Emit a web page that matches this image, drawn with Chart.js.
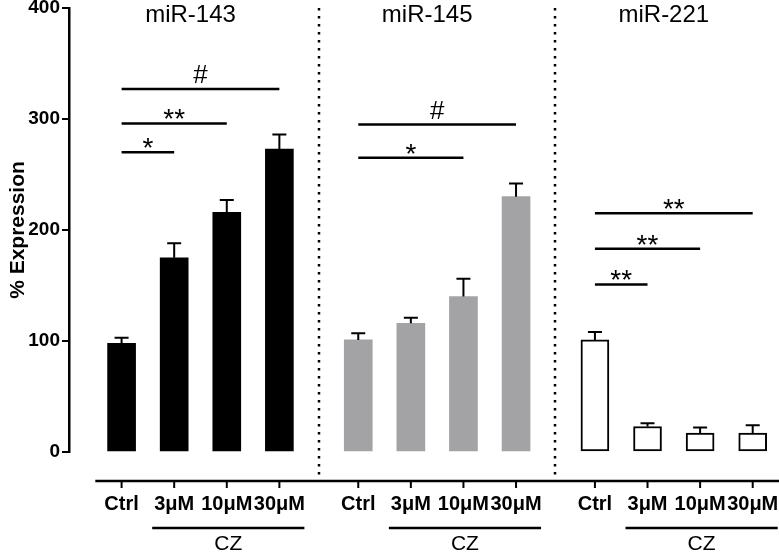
<!DOCTYPE html>
<html>
<head>
<meta charset="utf-8">
<script src="https://cdn.jsdelivr.net/npm/chart.js@4"></script>
<style>
html, body { margin: 0; padding: 0; background: #fff; }
#wrap { width: 779px; height: 552px; }
</style>
</head>
<body>
<div id="wrap"><canvas id="exprChart"></canvas></div>
<script>
// values
const groupNames = ['miR-143', 'miR-145', 'miR-221'];
const doseLabels = ['Ctrl', '3μM', '10μM', '30μM'];
const mir143 = [98, 175, 216, 273];
const mir143Err = [5, 13, 11, 13];
const mir145 = [101, 116, 140, 230];
const mir145Err = [6, 5, 16, 12];
const mir221 = [101, 23, 17, 17];
const mir221Err = [7, 3, 5, 7];
const yTicks = [0, 100, 200, 300, 400];
// significance bars: [from bar, to bar, height in %, mark]
const sig143 = [[0, 1, 270, '*'], [0, 2, 296, '**'], [0, 3, 327, '#']];
const sig145 = [[0, 2, 265, '*'], [0, 3, 295, '#']];
const sig221 = [[0, 1, 151, '**'], [0, 2, 183, '**'], [0, 3, 215, '**']];

const seriesValues = [mir143, mir145, mir221];
const seriesErr = [mir143Err, mir145Err, mir221Err];
const seriesSig = [sig143, sig145, sig221];
const fills = ['#000000', '#a3a3a5', '#ffffff'];
const FONT = '"Liberation Sans", Arial, sans-serif';

// bar position on the x scale: groups are 4.5 units apart
const xPos = (g, i) => g * 4.5 + i;
const tickPositions = [];
seriesValues.forEach((vals, g) => vals.forEach((v, i) => tickPositions.push(xPos(g, i))));

const datasets = seriesValues.map((vals, g) => ({
    label: groupNames[g],
    data: vals.map((v, i) => ({ x: xPos(g, i), y: v })),
    backgroundColor: fills[g],
    borderColor: '#000',
    borderWidth: g === 2 ? 2 : 0,
    borderSkipped: false,
    barThickness: 28,
    grouped: false
}));

const extras = {
    id: 'extras',
    afterDatasetsDraw(chart) {
        const ctx = chart.ctx, ys = chart.scales.y;
        ctx.save();
        ctx.strokeStyle = '#000';
        ctx.lineWidth = 2;
        // error bars (upper only)
        chart.data.datasets.forEach((ds, g) => {
            chart.getDatasetMeta(g).data.forEach((bar, i) => {
                const top = ys.getPixelForValue(seriesValues[g][i] + seriesErr[g][i]);
                ctx.beginPath();
                ctx.moveTo(bar.x, bar.y);
                ctx.lineTo(bar.x, top);
                ctx.moveTo(bar.x - 7, top);
                ctx.lineTo(bar.x + 7, top);
                ctx.stroke();
            });
        });
        ctx.restore();
    },
    afterDraw(chart) {
        const ctx = chart.ctx, xs = chart.scales.x, ys = chart.scales.y, area = chart.chartArea;
        const axisY = area.bottom + 29;
        ctx.save();
        ctx.strokeStyle = '#000';
        ctx.fillStyle = '#000';

        // offset x axis line with ticks
        ctx.lineWidth = 2.5;
        ctx.beginPath();
        ctx.moveTo(xs.getPixelForValue(-0.5), axisY);
        ctx.lineTo(chart.width, axisY);
        ctx.stroke();
        ctx.lineWidth = 2;
        tickPositions.forEach(v => {
            const px = xs.getPixelForValue(v);
            ctx.beginPath();
            ctx.moveTo(px, axisY);
            ctx.lineTo(px, axisY + 7);
            ctx.stroke();
        });

        // dotted separators between groups
        ctx.lineWidth = 2.5;
        ctx.setLineDash([2.5, 5.5]);
        [3.75, 8.25].forEach(v => {
            const px = Math.round(xs.getPixelForValue(v));
            ctx.beginPath();
            ctx.moveTo(px, area.top);
            ctx.lineTo(px, axisY);
            ctx.stroke();
        });
        ctx.setLineDash([]);

        seriesValues.forEach((vals, g) => {
            const cx = (xs.getPixelForValue(xPos(g, 0)) + xs.getPixelForValue(xPos(g, 3))) / 2;

            // group title
            ctx.font = '24px ' + FONT;
            ctx.textAlign = 'center';
            ctx.textBaseline = 'alphabetic';
            ctx.fillText(groupNames[g], cx - 10, 22);

            // significance lines
            seriesSig[g].forEach(([a, b, lvl, mark]) => {
                const x1 = xs.getPixelForValue(xPos(g, a));
                const x2 = xs.getPixelForValue(xPos(g, b));
                const y = ys.getPixelForValue(lvl);
                ctx.lineWidth = 2.5;
                ctx.beginPath();
                ctx.moveTo(x1, y);
                ctx.lineTo(x2, y);
                ctx.stroke();
                ctx.font = (mark === '#' ? '26px ' : '28px ') + FONT;
                const m = ctx.measureText(mark);
                const mid = mark === '#' ? y - 15 : y - 9;
                const base = mid + (m.actualBoundingBoxAscent - m.actualBoundingBoxDescent) / 2;
                ctx.fillText(mark, (x1 + x2) / 2, base);
            });

            // CZ bracket under the treated bars
            const l = xs.getPixelForValue(xPos(g, 1)) - 22;
            const r = xs.getPixelForValue(xPos(g, 3)) + 25;
            ctx.lineWidth = 2.5;
            ctx.beginPath();
            ctx.moveTo(l, 528);
            ctx.lineTo(r, 528);
            ctx.stroke();
            ctx.font = '21px ' + FONT;
            ctx.textBaseline = 'middle';
            ctx.fillText('CZ', (l + r) / 2, 544);
        });
        ctx.restore();
    }
};

const ctx = document.getElementById('exprChart').getContext('2d');
new Chart(ctx, {
    type: 'bar',
    data: { datasets: datasets },
    options: {
        responsive: true,
        maintainAspectRatio: false,
        animation: false,
        layout: { padding: 0 },
        plugins: {
            legend: { display: false },
            tooltip: { enabled: false }
        },
        scales: {
            x: {
                type: 'linear',
                offset: false,
                min: -1,
                max: 12.5,
                grid: { display: false, drawTicks: false, offset: false },
                border: { display: false },
                afterBuildTicks: scale => {
                    scale.ticks = tickPositions.map(v => ({ value: v }));
                },
                afterFit: scale => {
                    scale.height = 100;
                    scale.paddingLeft = 0;
                    scale.paddingRight = 0;
                },
                ticks: {
                    autoSkip: false,
                    maxRotation: 0,
                    padding: 40,
                    color: '#000',
                    font: { family: FONT, size: 20, weight: 'bold' },
                    callback: (val, idx) => doseLabels[idx % doseLabels.length]
                }
            },
            y: {
                min: 0,
                max: 400,
                afterBuildTicks: scale => {
                    scale.ticks = yTicks.map(v => ({ value: v }));
                },
                afterFit: scale => {
                    scale.width = 69;
                    scale.paddingTop = 8;
                    scale.paddingBottom = 0;
                },
                grid: { display: true, drawOnChartArea: false, drawTicks: true, tickLength: 7, color: '#000', lineWidth: 2 },
                border: { display: true, color: '#000', width: 2.5 },
                ticks: {
                    padding: 2,
                    color: '#000',
                    font: { family: FONT, size: 19, weight: 'bold' }
                },
                title: {
                    display: true,
                    text: '% Expression',
                    color: '#000',
                    padding: { top: 6, bottom: 0 },
                    font: { family: FONT, size: 21, weight: 'bold' }
                }
            }
        }
    },
    plugins: [extras]
});
</script>
</body>
</html>
